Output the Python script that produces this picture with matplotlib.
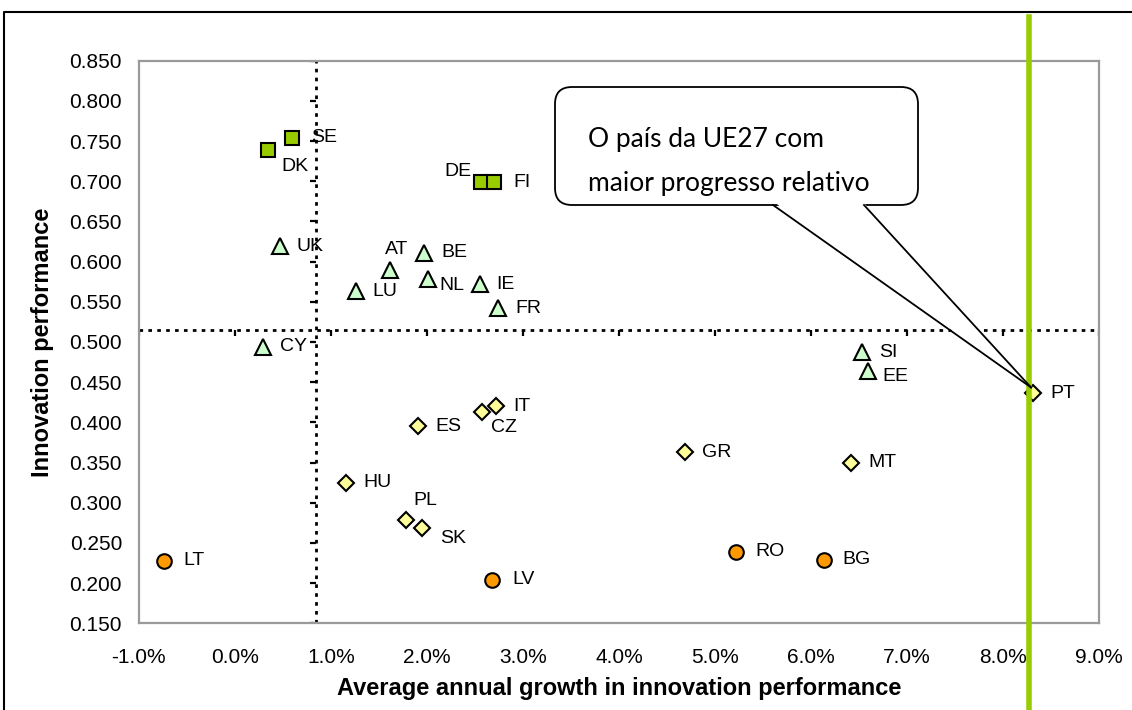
import matplotlib
matplotlib.use("Agg")
import matplotlib.pyplot as plt
import numpy as np
from matplotlib.patches import FancyBboxPatch, Polygon
from matplotlib.lines import Line2D
from matplotlib.transforms import IdentityTransform, offset_copy
from matplotlib.ticker import FuncFormatter, MultipleLocator

# innovation leaders (squares)
lead_codes = ["SE", "DK", "DE", "FI"]
lead_growth = [0.60, 0.35, 2.56, 2.70]
lead_perf = [0.754, 0.739, 0.699, 0.699]

# innovation followers (triangles)
follow_codes = ["UK", "AT", "BE", "NL", "LU", "IE", "FR", "CY", "SI", "EE"]
follow_growth = [0.47, 1.62, 1.97, 2.01, 1.26, 2.55, 2.74, 0.29, 6.53, 6.59]
follow_perf = [0.619, 0.590, 0.611, 0.579, 0.563, 0.572, 0.542, 0.494, 0.487, 0.464]

# moderate innovators (diamonds)
moderate_codes = ["PT", "IT", "CZ", "ES", "GR", "MT", "HU", "PL", "SK"]
moderate_growth = [8.31, 2.72, 2.57, 1.91, 4.69, 6.42, 1.16, 1.78, 1.95]
moderate_perf = [0.436, 0.420, 0.413, 0.395, 0.363, 0.350, 0.325, 0.279, 0.268]

# catching-up countries (circles)
catching_codes = ["LT", "LV", "RO", "BG"]
catching_growth = [-0.74, 2.68, 5.22, 6.13]
catching_perf = [0.228, 0.204, 0.239, 0.229]

eu_growth = 0.85
eu_perf = 0.515
highlight_growth = 8.27
callout_lines = ["O país da UE27 com", "maior progresso relativo"]

# label placement (pixels right / up from the marker, alignment)
label_offsets = {
    "SE": (19, 0, "left"), "DK": (13, -17, "left"), "DE": (-9, 11, "right"),
    "FI": (19, 0, "left"), "AT": (6, 20, "center"), "NL": (12, -7, "left"),
    "CZ": (9, -16, "left"), "PL": (8, 19, "left"), "SK": (18, -10, "left"),
    "EE": (15, -6, "left"), "LV": (20, 0, "left"), "RO": (19, 0, "left"),
    "BG": (19, 0, "left"), "LT": (20, 0, "left"),
}

plt.rcParams["font.family"] = ["Liberation Sans", "DejaVu Sans"]

W, H = 1132, 710
fig = plt.figure(figsize=(W / 100, H / 100), dpi=100)
ax = fig.add_axes([138.7 / W, (H - 623.3) / H, 960.6 / W, 562.6 / H])

ax.set_xlim(-1, 9)
ax.set_ylim(0.15, 0.85)
ax.xaxis.set_major_locator(MultipleLocator(1))
ax.yaxis.set_major_locator(MultipleLocator(0.05))
ax.xaxis.set_major_formatter(FuncFormatter(lambda v, p: f"{v:.1f}%"))
ax.yaxis.set_major_formatter(FuncFormatter(lambda v, p: f"{v:.3f}"))
ax.tick_params(axis="both", length=0, labelsize=15, colors="black")
ax.tick_params(axis="y", pad=12)
ax.tick_params(axis="x", pad=18)
for s in ax.spines.values():
    s.set_color("#9a9a9a")
    s.set_linewidth(1.6)

ax.set_xlabel("Average annual growth in innovation performance", fontsize=17, fontweight="bold")
ax.set_ylabel("Innovation performance", fontsize=17, fontweight="bold")
ax.xaxis.set_label_coords(0.5, -0.096)
ax.yaxis.set_label_coords(-0.088, 0.5)

# EU average cross lines with small tick marks
dot = (0, (1.3, 1.9))
ax.axvline(eu_growth, color="black", lw=2, ls=dot, zorder=1)
ax.axhline(eu_perf, color="black", lw=2, ls=dot, zorder=1)
yt = np.arange(0.15, 0.851, 0.05)
ax.plot(np.full(len(yt), eu_growth), yt, ls="none", marker=0, ms=4, mew=1.6, color="black", zorder=1)
xt = np.arange(-1, 9.01, 1)
ax.plot(xt, np.full(len(xt), eu_perf), ls="none", marker=3, ms=4, mew=1.6, color="black", zorder=1)

groups = [
    (lead_codes, lead_growth, lead_perf, "s", 10.5, "#99cc00"),
    (follow_codes, follow_growth, follow_perf, "^", 12, "#ccffcc"),
    (moderate_codes, moderate_growth, moderate_perf, "D", 8.5, "#ffff99"),
    (catching_codes, catching_growth, catching_perf, "o", 10.5, "#ff9900"),
]
for codes, gx, gy, mk, ms, fc in groups:
    ax.plot(gx, gy, ls="none", marker=mk, ms=ms, mfc=fc, mec="black", mew=1.5, zorder=4)
    for c, x, y in zip(codes, gx, gy):
        dx, dy, ha = label_offsets.get(c, (17, 0, "left"))
        tr = offset_copy(ax.transData, fig=fig, x=dx, y=dy, units="dots")
        ax.text(x, y, c, transform=tr, ha=ha, va="center", fontsize=14, zorder=5)

# highlighted growth line, running past the plot area
ax.axvline(highlight_growth, ymin=-0.16, ymax=1.078, color="#99cc00", lw=4, clip_on=False, zorder=6)

# speech bubble pointing at PT
ident = IdentityTransform()
pt_x, pt_y = ax.transData.transform((moderate_growth[0], moderate_perf[0]))
bx0, bx1 = 555, 918
by_top, by_bot = H - 87, H - 205
bubble = FancyBboxPatch((bx0, by_bot), bx1 - bx0, by_top - by_bot,
                        boxstyle="round,pad=0,rounding_size=17", transform=ident,
                        fc="white", ec="black", lw=1.3, zorder=7)
fig.add_artist(bubble)
base_l, base_r = 773, 864
tip = (pt_x - 2, pt_y + 6)
fig.add_artist(Polygon([(base_l + 1, by_bot + 3), (base_r - 1, by_bot + 3), tip],
                       closed=True, transform=ident, fc="white", ec="none", zorder=8))
fig.add_artist(Line2D([base_l, tip[0]], [by_bot, tip[1]], transform=ident, color="black", lw=1.3, zorder=9))
fig.add_artist(Line2D([base_r, tip[0]], [by_bot, tip[1]], transform=ident, color="black", lw=1.3, zorder=9))
for i, line in enumerate(callout_lines):
    fig.text(588 / W, (H - 139 - 45 * i) / H, line, ha="left", va="center",
             fontsize=19, family=["Lato", "DejaVu Sans"], zorder=10)

# outer frame of the original picture
fig.add_artist(Line2D([4 / W, 4 / W, 1], [0, 1 - 12 / H, 1 - 12 / H], transform=fig.transFigure,
                      color="black", lw=1.5))

fig.savefig("out.png", dpi=100)
